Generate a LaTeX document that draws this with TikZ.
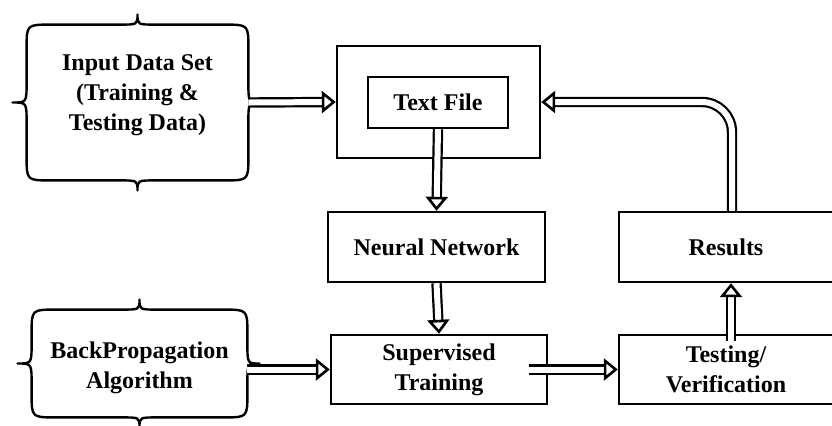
\documentclass[tikz,border=0pt]{standalone}
\usepackage{fontspec}
\setmainfont{Liberation Serif}
\usetikzlibrary{arrows.meta,calc}

\newcommand{\curlybox}[1]{%
\draw[curly] let \p1=(#1.north west), \p2=(#1.south east), \p3=(#1.center) in
  (\x3,\y1+5pt) .. controls (\x3,\y1) .. (\x3+9pt,\y1)
  -- (\x2-12pt,\y1) .. controls (\x2,\y1) .. (\x2,\y1-12pt)
  -- (\x2,\y3+10pt) .. controls (\x2,\y3) .. (\x2+6pt,\y3)
  .. controls (\x2,\y3) .. (\x2,\y3-10pt)
  -- (\x2,\y2+12pt) .. controls (\x2,\y2) .. (\x2-12pt,\y2)
  -- (\x3+9pt,\y2) .. controls (\x3,\y2) .. (\x3,\y2-5pt)
  .. controls (\x3,\y2) .. (\x3-9pt,\y2)
  -- (\x1+12pt,\y2) .. controls (\x1,\y2) .. (\x1,\y2+12pt)
  -- (\x1,\y3-10pt) .. controls (\x1,\y3) .. (\x1-7pt,\y3)
  .. controls (\x1,\y3) .. (\x1,\y3+10pt)
  -- (\x1,\y1-12pt) .. controls (\x1,\y1) .. (\x1+12pt,\y1)
  -- (\x3-9pt,\y1) .. controls (\x3,\y1) .. (\x3,\y1+5pt) -- cycle;}

\begin{document}
\begin{tikzpicture}[x=0.5pt, y=-0.5pt,
  font=\bfseries\fontsize{12}{15}\selectfont,
  block/.style={draw, line width=1.2pt, align=center, inner sep=0pt},
  cloud/.style={align=center, inner sep=0pt},
  curly/.style={line width=1.2pt, line join=round},
  dline/.style={double, double distance=3pt, line width=1.1pt,
    -{Triangle[open, length=7pt, width=11pt, line width=1.3pt]}}]
\useasboundingbox (0,0) rectangle (832,425);
\node[cloud, minimum width=110.5pt, minimum height=77.5pt] (inputdata) at (137.5,102.5)
  {\raisebox{1pt}[0pt][0pt]{\begin{tabular}{@{}c@{}}Input Data Set\\(Training \&\\Testing Data)\end{tabular}}};
\node[cloud, minimum width=107.5pt, minimum height=53.5pt] (backprop) at (139.5,363.5)
  {\raisebox{-5pt}[0pt][0pt]{\begin{tabular}{@{}c@{}}BackPropagation\\Algorithm\end{tabular}}};
\curlybox{inputdata}
\curlybox{backprop}
\node[block, minimum width=101.5pt, minimum height=56pt] (textfile) at (438.5,102) {};
\node[block, minimum width=70pt, minimum height=25.5pt] (textinner) at (438,102.5) {Text File};
\node[block, minimum width=108.5pt, minimum height=35pt] (neural) at (436.5,247) {Neural Network};
\node[block, minimum width=107pt, minimum height=35pt] (results) at (726,247) {Results};
\node[block, minimum width=108pt, minimum height=34.5pt] (supervised) at (439,369.5) {Supervised\\Training};
\node[block, minimum width=107pt, minimum height=34.5pt] (testing) at (726,369.5) {Testing/\\Verification};
\draw[dline] (inputdata.east) -- (textfile.west);
\draw[dline] (textinner.south) -- (neural.north);
\draw[dline] (neural.south) -- (supervised.north);
\draw[dline] (backprop.east |- supervised.west) -- (supervised.west);
\draw[dline] ($(supervised.east)+(-19,0)$) -- (testing.west);
\draw[dline] ($(testing.north)+(5,7)$) -- ($(results.south)+(5,0)$);
\draw[dline, rounded corners=15pt] ($(results.north)+(6,0)$) |- (textfile.east);
\end{tikzpicture}
\end{document}
